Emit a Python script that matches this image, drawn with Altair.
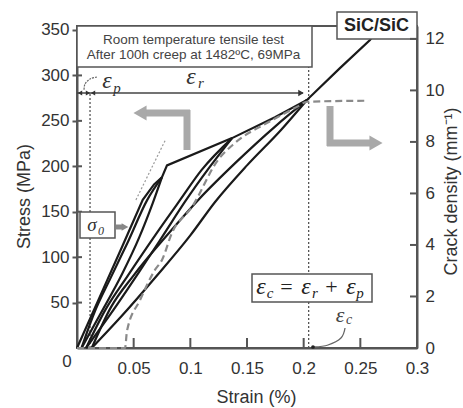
import altair as alt
import pandas as pd

# ---------------- data ----------------
# stress-strain curves: strain (%) / stress (MPa)
env_strain = [0, 0.02, 0.04, 0.058, 0.068, 0.075, 0.0794, 0.1368, 0.1747, 0.2029, 0.232, 0.2585, 0.262]
env_stress = [0, 56, 112, 163, 180, 188, 201, 231, 254, 273, 308, 339, 345]
u1_strain = [0.075, 0.062, 0.045, 0.03, 0.015, 0.004]
u1_stress = [188, 163, 117, 78, 38, 0]
r1_strain = [0.004, 0.02, 0.04, 0.055, 0.067, 0.075]
r1_stress = [0, 36, 82, 122, 160, 188]
u2_strain = [0.1368, 0.11, 0.091, 0.07, 0.045, 0.025, 0.008]
u2_stress = [231, 196, 163, 126, 80, 42, 0]
r2_strain = [0.008, 0.03, 0.055, 0.075, 0.0953, 0.117, 0.1368]
r2_stress = [0, 38, 84, 122, 161, 199, 231]
u3_strain = [0.2029, 0.175, 0.14, 0.107, 0.08, 0.05, 0.03, 0.013]
u3_stress = [273, 244, 204, 163, 125, 80, 45, 0]
r3_strain = [0.013, 0.04, 0.07, 0.1, 0.122, 0.15, 0.18, 0.2029]
r3_stress = [0, 36, 79, 124, 161, 201, 240, 273]

# crack density (mm^-1) vs strain (%)
cd_strain = [0, 0.0424, 0.0441, 0.0556, 0.0688, 0.075, 0.0838, 0.1015, 0.1244, 0.1394, 0.1703, 0.1941, 0.2029, 0.256]
cd_value = [0, 0, 0.66, 1.86, 3.03, 3.42, 4.47, 5.48, 7.30, 7.96, 8.8, 9.36, 9.56, 9.6]

# tangent (initial modulus) dotted line
tan_strain = [0.052, 0.078]
tan_stress = [163, 229]

# reference strains
eps_p_strain = 0.0115
eps_c_strain = 0.2044
eps_line_stress = 280.6

# axis ticks
x_ticks = [0.05, 0.1, 0.15, 0.2, 0.25, 0.3]
y_ticks = [50, 100, 150, 200, 250, 300, 350]
cd_ticks = [0, 2, 4, 6, 8, 10, 12]

# curved annotation arrows (data coords)
ec_arrow_strain = [0.2365, 0.2329, 0.2215, 0.2091]
ec_arrow_stress = [22.0, 11.0, 3.3, 1.1]
ep_arc_strain = [0.0176, 0.0115, 0.0071, 0.0062]
ep_arc_stress = [298.3, 296.1, 290.6, 284.0]

# ---------------- build tables ----------------
loops = {
    "u1": (u1_strain, u1_stress), "r1": (r1_strain, r1_stress),
    "u2": (u2_strain, u2_stress), "r2": (r2_strain, r2_stress),
    "u3": (u3_strain, u3_stress), "r3": (r3_strain, r3_stress),
}
rows = []
for name, (xs_, ys_) in loops.items():
    for a, b in zip(xs_, ys_):
        rows.append({"series": name, "strain": a, "stress": b})
loop_df = pd.DataFrame(rows)
env_df = pd.DataFrame({"strain": env_strain, "stress": env_stress})
cd_df = pd.DataFrame({"strain": cd_strain, "cd": cd_value})
tan_df = pd.DataFrame({"strain": tan_strain, "stress": tan_stress})
vl_df = pd.DataFrame({"strain": [eps_p_strain, eps_c_strain], "stress": [0, 0],
                      "stress2": [eps_line_stress, 354.4]})
ec_df = pd.DataFrame({"strain": ec_arrow_strain, "stress": ec_arrow_stress, "idx": range(4)})
ep_df = pd.DataFrame({"strain": ep_arc_strain, "stress": ep_arc_stress, "idx": range(4)})
xt_df = pd.DataFrame({"strain": x_ticks})
yt_df = pd.DataFrame({"stress": y_ticks})
ct_df = pd.DataFrame({"cd": cd_ticks[1:]})
dummy = pd.DataFrame({"a": [0]})

W, H = 340, 322
FONT = "Liberation Sans"
SERIF = "Liberation Serif"
AX = "#555555"
TXT = "#333333"
GREY = "#a9a9a9"

x_axis = alt.Axis(values=x_ticks, format="~g", ticks=False, labelPadding=12, labelFontSize=17,
                  labelFont=FONT, labelColor=TXT, labelFlush=False, labelOverlap=False,
                  domainColor=AX, domainWidth=2, grid=False, title="Strain (%)",
                  titleFont=FONT, titleFontSize=18, titleFontWeight="normal", titleColor=TXT,
                  titleX=179, titleY=49, titleBaseline="middle", titleAlign="center")
y_axis = alt.Axis(values=y_ticks, orient="left", tickSize=5, tickColor=AX, tickWidth=2,
                  labelPadding=3, labelFontSize=17, labelFont=FONT, labelColor=TXT,
                  domainColor=AX, domainWidth=2, grid=False, title="Stress (MPa)",
                  titleFont=FONT, titleFontSize=18, titleFontWeight="normal", titleColor=TXT,
                  titleX=-53, titleY=170, titleAngle=270, titleBaseline="middle", titleAlign="center")
cd_axis = alt.Axis(values=cd_ticks, orient="right", ticks=False, labelPadding=8, labelFontSize=17,
                   labelFont=FONT, labelColor=TXT, domainColor=AX, domainWidth=2, grid=False,
                   title="Crack density (mm⁻¹)", titleFont=FONT, titleFontSize=18,
                   titleFontWeight="normal", titleColor=TXT, titleX=34, titleY=165,
                   titleAngle=270, titleBaseline="middle", titleAlign="center")

xs = alt.Scale(domain=[0, 0.3], nice=False, zero=False)
ys = alt.Scale(domain=[0, 354.4], nice=False)
cs = alt.Scale(domain=[0, 12.5], nice=False)
X = alt.X("strain:Q", scale=xs, axis=x_axis)
Y = alt.Y("stress:Q", scale=ys, axis=y_axis)
YC = alt.Y("cd:Q", scale=cs, axis=cd_axis)


def rule(x, x2, y, y2, color=AX, w=1.5, dash=None):
    kw = dict(color=color, strokeWidth=w)
    if dash:
        kw["strokeDash"] = dash
    return alt.Chart(dummy).mark_rule(**kw).encode(
        x=alt.value(x), x2=alt.value(x2), y=alt.value(y), y2=alt.value(y2))


def box(x, x2, y, y2, w=1.5):
    return alt.Chart(dummy).mark_rect(fill="white", stroke=AX, strokeWidth=w).encode(
        x=alt.value(x), x2=alt.value(x2), y=alt.value(y), y2=alt.value(y2))


def txt(x, y, s, size=17, font=FONT, style="normal", weight="normal", color=TXT, align="center"):
    return alt.Chart(dummy).mark_text(text=s, fontSize=size, font=font, fontStyle=style,
                                      fontWeight=weight, color=color, align=align,
                                      baseline="middle").encode(x=alt.value(x), y=alt.value(y))


def head(x, y, shape, size, color):
    return alt.Chart(dummy).mark_point(shape=shape, filled=True, size=size, color=color,
                                       opacity=1, strokeWidth=0).encode(x=alt.value(x), y=alt.value(y))


vlines = alt.Chart(vl_df).mark_rule(color="#555", strokeWidth=1.3, strokeDash=[2, 2]).encode(
    x=X, y=Y, y2="stress2:Q")
tangent = alt.Chart(tan_df).mark_line(color="#999", strokeWidth=1.2, strokeDash=[2, 2]).encode(x=X, y=Y)
envelope = alt.Chart(env_df).mark_line(color="#1a1a1a", strokeWidth=2.2).encode(x=X, y=Y)
loop_lines = alt.Chart(loop_df).mark_line(color="#1a1a1a", strokeWidth=2.2, interpolate="monotone").encode(
    x=X, y=Y, detail="series:N")
ec_arrow = alt.Chart(ec_df).mark_line(color="#666", strokeWidth=1.3, interpolate="cardinal").encode(
    x=X, y=Y, order="idx:Q")
ep_arc = alt.Chart(ep_df).mark_line(color="#666", strokeWidth=1.2, strokeDash=[2, 1],
                                    interpolate="cardinal").encode(x=X, y=Y, order="idx:Q")
xticks = alt.Chart(xt_df).mark_rule(color=AX, strokeWidth=2).encode(
    x=X, y=alt.value(H), y2=alt.value(H - 10))
yticks = alt.Chart(yt_df).mark_rule(color=AX, strokeWidth=2).encode(
    y=Y, x=alt.value(0), x2=alt.value(5))

ann = [
    # epsilon arrow line
    rule(0, 226, 67, 67, color="#444", w=1.5),
    head(224, 67, "triangle-right", 40, "#333"),
    head(3, 67, "triangle-left", 25, "#333"),
    head(11, 67, "triangle-right", 25, "#333"),
    head(16, 67, "triangle-left", 25, "#333"),
    # grey L arrows
    rule(68, 113, 87, 87, color=GREY, w=7),
    rule(110, 110, 84, 124, color=GREY, w=7),
    head(63, 87, "triangle-left", 230, GREY),
    rule(253, 253, 80, 120, color=GREY, w=7),
    rule(250, 294, 117, 117, color=GREY, w=7),
    head(299, 117, "triangle-right", 230, GREY),
    # sigma0 arrow
    rule(39, 46, 201, 201, color="#888", w=5),
    head(48, 201, "triangle-right", 60, "#888"),
    # boxes
    box(0, 235, 0, 41),
    box(260, 340, -14, 13),
    box(3, 38, 186, 212),
    box(175, 295, 248, 276),
    # texts
    txt(116.5, 14, "Room temperature tensile test", size=13.5, color="#444"),
    txt(116.5, 29, "After 100h creep at 1482ºC, 69MPa", size=13.5, color="#444"),
    txt(299.5, 0, "SiC/SiC", size=18, weight="bold", color="#222"),
    txt(-10, 336, "0", size=17),
    # epsilon_p / epsilon_r labels
    txt(30, 55, "ε", size=24, font=SERIF, style="italic", color="#333"),
    txt(40, 62, "p", size=15, font=SERIF, style="italic", color="#333"),
    txt(114, 51, "ε", size=24, font=SERIF, style="italic", color="#333"),
    txt(124, 57, "r", size=15, font=SERIF, style="italic", color="#333"),
    # sigma0
    txt(15, 199, "σ", size=19, font=SERIF, style="italic", color="#333"),
    txt(24, 205, "0", size=12, font=SERIF, style="italic", color="#333"),
    # formula
    txt(184, 261, "ε", size=24, font=SERIF, style="italic", color="#222"),
    txt(193, 267, "c", size=15, font=SERIF, style="italic", color="#222"),
    txt(209.5, 261, "=", size=22, font=SERIF, color="#222"),
    txt(229, 261, "ε", size=24, font=SERIF, style="italic", color="#222"),
    txt(238, 267, "r", size=15, font=SERIF, style="italic", color="#222"),
    txt(254.5, 261, "+", size=22, font=SERIF, color="#222"),
    txt(274, 261, "ε", size=24, font=SERIF, style="italic", color="#222"),
    txt(283, 267, "p", size=15, font=SERIF, style="italic", color="#222"),
    # epsilon_c label
    txt(263, 289, "ε", size=22, font=SERIF, style="italic", color="#444"),
    txt(272, 294, "c", size=14, font=SERIF, style="italic", color="#444"),
    head(236, 321, "circle", 14, "#222"),
]

layer_a = alt.layer(vlines, tangent, envelope, loop_lines, ec_arrow, ep_arc, xticks, yticks, *ann)

cd_line = alt.Chart(cd_df).mark_line(color="#8a8a8a", strokeWidth=2.2, strokeDash=[7, 4],
                                     interpolate="monotone").encode(x=X, y=YC)
cd_ticks_rule = alt.Chart(ct_df).mark_rule(color=AX, strokeWidth=2).encode(
    y=YC, x=alt.value(W - 7), x2=alt.value(W))
layer_b = alt.layer(cd_line, cd_ticks_rule)

chart = alt.layer(layer_a, layer_b).resolve_scale(y="independent").properties(
    width=W, height=H,
    autosize=alt.AutoSizeParams(type="none"),
    padding={"left": 77, "top": 26, "right": 46, "bottom": 60},
    background="white",
).configure_view(stroke=AX, strokeWidth=2)

chart.save("out.html", embed_options={"renderer": "svg", "actions": False})
